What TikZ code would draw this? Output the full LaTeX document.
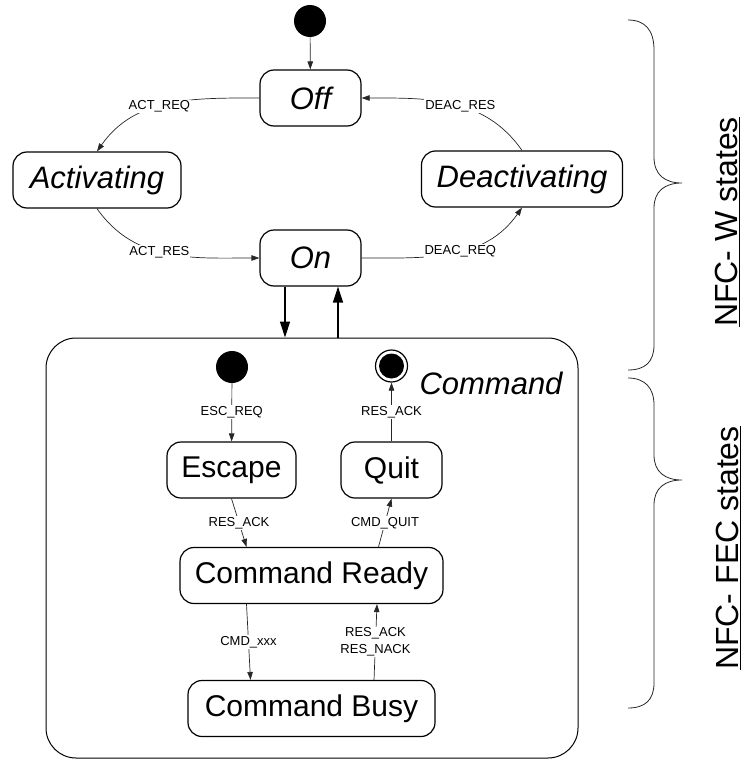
\documentclass[tikz,border=0pt]{standalone}
\usepackage{fontspec}
\setmainfont{Liberation Sans}
\usetikzlibrary{arrows.meta, positioning}

\begin{document}
\begin{tikzpicture}[x=1pt, y=-1pt, ->, >={Triangle[length=8pt,width=5.5pt]},
			state/.style={draw, line width=1.2pt, rounded corners=14pt, minimum height=56pt, inner sep=0pt, font=\fontsize{30}{34}\selectfont},
			istate/.style={state, font=\fontsize{31}{34}\selectfont\itshape},
			trans/.style={line width=0.7pt, draw=black!85},
			lab/.style={fill=white, inner sep=1pt, text=black, font=\fontsize{13}{17}\selectfont},
			init/.style={circle, fill=black, minimum size=32pt, inner sep=0pt},
			big/.style={line width=1.4pt, -{Triangle[length=16pt,width=10pt]}},
			brace/.style={-, line width=0.8pt, draw=black!85}]
			\useasboundingbox (0,0) rectangle (744,760);
			
			% Stati NFC-W
			\node[init] (start) at (310,21) {};
			\node[istate, minimum width=101pt] (off) at (310.5,98) {Off};
			\node[istate, minimum width=168pt] (act) at (97,180) {Activating};
			\node[istate, minimum width=201pt] (deact) at (522,179) {Deactivating};
			\node[istate, minimum width=101pt] (on) at (310.5,258) {On};
			
			% Superstato Command
			\node[draw, line width=1pt, rounded corners=30pt, minimum width=532pt, minimum height=420pt] (cmd) at (312,548) {};
			\node[font=\fontsize{31}{34}\selectfont\itshape] (cmdname) at (491,383) {Command};
			\node[init] (cstart) at (232,367) {};
			\node[circle, draw, line width=1.2pt, minimum size=32pt, inner sep=0pt] (cend) at (391.5,366) {};
			\node[circle, fill=black, minimum size=25pt, inner sep=0pt] (cendin) at (cend) {};
			\node[state, minimum width=129pt] (esc) at (231.5,470) {Escape};
			\node[state, minimum width=101pt] (quit) at (391.5,470) {Quit};
			\node[state, minimum width=263pt] (ready) at (311.5,575.5) {Command Ready};
			\node[state, minimum width=247pt] (busy) at (311.5,708.5) {Command Busy};
			
			% Transizioni NFC-W
			\draw[trans] (start) -- (off);
			\draw[trans] (off.west) to[out=180, in=55] node[lab, pos=0.55]{ACT\_REQ} (act.north);
			\draw[trans] (act.south) to[out=-55, in=180] node[lab, pos=0.45]{ACT\_RES} (on.west);
			\draw[trans] (on.east) to[out=0, in=-125] node[lab, pos=0.55]{DEAC\_REQ} (deact.south);
			\draw[trans] (deact.north) to[out=125, in=0] node[lab, pos=0.45]{DEAC\_RES} (off.east);
			
			% On <-> Command
			\draw[big] ([xshift=-25.5pt]on.south) -- ([xshift=-25.5pt]on.south |- cmd.north);
			\draw[big] ([xshift=27.5pt]on.south |- cmd.north) -- ([xshift=27.5pt]on.south);
			
			% Transizioni NFC-FEC
			\draw[trans] (cstart) -- node[lab]{ESC\_REQ} (esc);
			\draw[trans] (quit) -- node[lab]{RES\_ACK} (cend);
			\draw[trans] (esc.south) -- node[lab]{RES\_ACK} ([xshift=-65pt]ready.north);
			\draw[trans] ([xshift=67pt]ready.north) -- node[lab]{CMD\_QUIT} (quit.south);
			\draw[trans] ([xshift=-65pt]ready.south) -- node[lab]{CMD\_xxx} ([xshift=-61pt]busy.north);
			\draw[trans] ([xshift=62.5pt]busy.north) -- node[lab, align=center]{RES\_ACK\\RES\_NACK} ([xshift=65.5pt]ready.south);
			
			% Parentesi graffe
			\draw[brace] (628,20) .. controls (645,20) and (654,30) .. (654,50) -- (654,157)
				.. controls (654,175) and (665,183) .. (682,183)
				.. controls (665,183) and (654,191) .. (654,208) -- (654,345)
				.. controls (654,362) and (645,370) .. (628,370);
			\draw[brace] (628,378) .. controls (645,378) and (654,388) .. (654,405) -- (654,455)
				.. controls (654,472) and (665,480) .. (682,480)
				.. controls (665,480) and (654,488) .. (654,505) -- (654,683)
				.. controls (654,700) and (645,708) .. (628,708);
			\node[rotate=90, font=\fontsize{32}{34}\selectfont] (wstates) at (727,222) {\underline{NFC- W states}};
			\node[rotate=90, font=\fontsize{32}{34}\selectfont] (fecstates) at (728,548) {\underline{NFC- FEC states}};
			
		\end{tikzpicture}
\end{document}
